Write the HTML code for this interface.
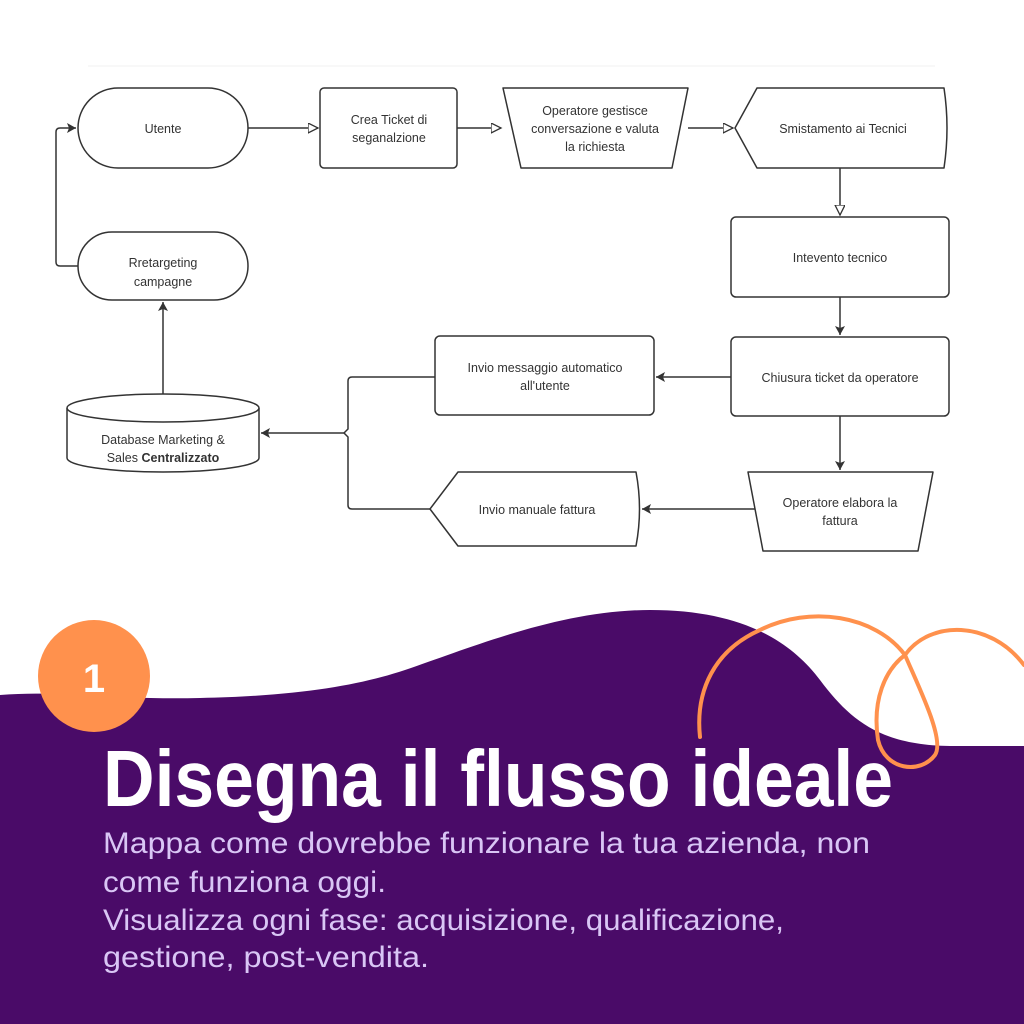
<!DOCTYPE html>
<html><head><meta charset="utf-8"><style>
html,body{margin:0;padding:0;background:#fff;}
svg{display:block;}
</style></head><body>
<svg width="1024" height="1024" viewBox="0 0 1024 1024" xmlns="http://www.w3.org/2000/svg">
<defs>
<marker id="h" markerWidth="12" markerHeight="12" refX="10" refY="5" orient="auto" markerUnits="userSpaceOnUse">
<path d="M0,0 L10,5 L0,10 Z" fill="#fff" stroke="#333" stroke-width="1.3"/></marker>
<marker id="f" markerWidth="12" markerHeight="12" refX="9" refY="5" orient="auto" markerUnits="userSpaceOnUse">
<path d="M0,0 L9,5 L0,10 L2,5 Z" fill="#333"/></marker>
</defs>
<rect width="1024" height="1024" fill="#fff"/>
<line x1="88" y1="66" x2="935" y2="66" stroke="#f2f2f2" stroke-width="1"/>
<g fill="#fff" stroke="#333" stroke-width="1.5">
<rect x="78" y="88" width="170" height="80" rx="40"/>
<rect x="320" y="88" width="137" height="80" rx="4"/>
<path d="M503,88 L688,88 L672,168 L521,168 Z" stroke-linejoin="round"/>
<path d="M757,88 L944,88 Q950,128 944,168 L757,168 L735,128 Z" stroke-linejoin="round"/>
<rect x="731" y="217" width="218" height="80" rx="5"/>
<rect x="731" y="337" width="218" height="79" rx="5"/>
<path d="M748,472 L933,472 L918,551 L763,551 Z" stroke-linejoin="round"/>
<rect x="435" y="336" width="219" height="79" rx="5"/>
<path d="M458,472 L636,472 Q643,509 636,546 L458,546 L430,509 Z" stroke-linejoin="round"/>
<rect x="78" y="232" width="170" height="68" rx="34"/>
<path d="M67,408 L67,458 A96,14 0 0 0 259,458 L259,408"/>
<ellipse cx="163" cy="408" rx="96" ry="14"/>
</g>
<g fill="none" stroke="#333" stroke-width="1.5">
<line x1="248" y1="128" x2="318" y2="128" marker-end="url(#h)"/>
<line x1="457" y1="128" x2="501" y2="128" marker-end="url(#h)"/>
<line x1="688" y1="128" x2="733" y2="128" marker-end="url(#h)"/>
<line x1="840" y1="168" x2="840" y2="215" marker-end="url(#h)"/>
<line x1="840" y1="297" x2="840" y2="335" marker-end="url(#f)"/>
<line x1="840" y1="416" x2="840" y2="470" marker-end="url(#f)"/>
<line x1="731" y1="377" x2="656" y2="377" marker-end="url(#f)"/>
<line x1="755" y1="509" x2="642" y2="509" marker-end="url(#f)"/>
<path d="M435,377 L352,377 Q348,377 348,381 L348,429 L344,433 L348,437 L348,505 Q348,509 352,509 L430,509"/>
<line x1="344" y1="433" x2="261" y2="433" marker-end="url(#f)"/>
<line x1="163" y1="394" x2="163" y2="302" marker-end="url(#f)"/>
<path d="M78,266 L60,266 Q56,266 56,262 L56,132 Q56,128 60,128 L76,128" marker-end="url(#f)"/>
</g>
<g font-family="Liberation Sans, sans-serif" font-size="12.5" fill="#333" text-anchor="middle">
<text x="163" y="133">Utente</text>
<text x="389" y="124">Crea Ticket di</text>
<text x="389" y="142">seganalzione</text>
<text x="595" y="115">Operatore gestisce</text>
<text x="595" y="133">conversazione e valuta</text>
<text x="595" y="151">la richiesta</text>
<text x="843" y="133">Smistamento ai Tecnici</text>
<text x="840" y="262">Intevento tecnico</text>
<text x="840" y="382">Chiusura ticket da operatore</text>
<text x="840" y="507">Operatore elabora la</text>
<text x="840" y="525">fattura</text>
<text x="545" y="372">Invio messaggio automatico</text>
<text x="545" y="390">all'utente</text>
<text x="537" y="514">Invio manuale fattura</text>
<text x="163" y="267">Rretargeting</text>
<text x="163" y="286">campagne</text>
<text x="163" y="444">Database Marketing &amp;</text>
<text x="163" y="462">Sales <tspan font-weight="bold">Centralizzato</tspan></text>
</g>
<path d="M0,695 C60,690 110,700 200,698 C300,696 360,685 405,670 C470,648 560,610 650,610 C740,610 790,640 820,680 C850,720 880,745 950,746 L1024,746 L1024,1024 L0,1024 Z" fill="#4a0b68"/>
<path d="M700,737 C695,690 715,650 760,630 C810,605 875,615 905,655 C920,690 945,740 935,755 C920,775 885,770 878,740 C872,700 885,670 905,655 C930,620 990,620 1024,665" fill="none" stroke="#ff914d" stroke-width="4" stroke-linecap="round"/>
<circle cx="94" cy="676" r="56" fill="#ff914d"/>
<text x="94" y="692" font-family="Liberation Sans, sans-serif" font-weight="bold" font-size="40" fill="#fff" text-anchor="middle">1</text>
<text x="103" y="806" font-family="Liberation Sans, sans-serif" font-weight="bold" font-size="80" fill="#fff" textLength="790" lengthAdjust="spacingAndGlyphs">Disegna il flusso ideale</text>
<g font-family="Liberation Sans, sans-serif" font-size="30" fill="#d9c6f5">
<text x="103" y="853" textLength="767" lengthAdjust="spacingAndGlyphs">Mappa come dovrebbe funzionare la tua azienda, non</text>
<text x="103" y="892" textLength="283" lengthAdjust="spacingAndGlyphs">come funziona oggi.</text>
<text x="103" y="930" textLength="681" lengthAdjust="spacingAndGlyphs">Visualizza ogni fase: acquisizione, qualificazione,</text>
<text x="103" y="967" textLength="326" lengthAdjust="spacingAndGlyphs">gestione, post-vendita.</text>
</g>
</svg>
</body></html>
